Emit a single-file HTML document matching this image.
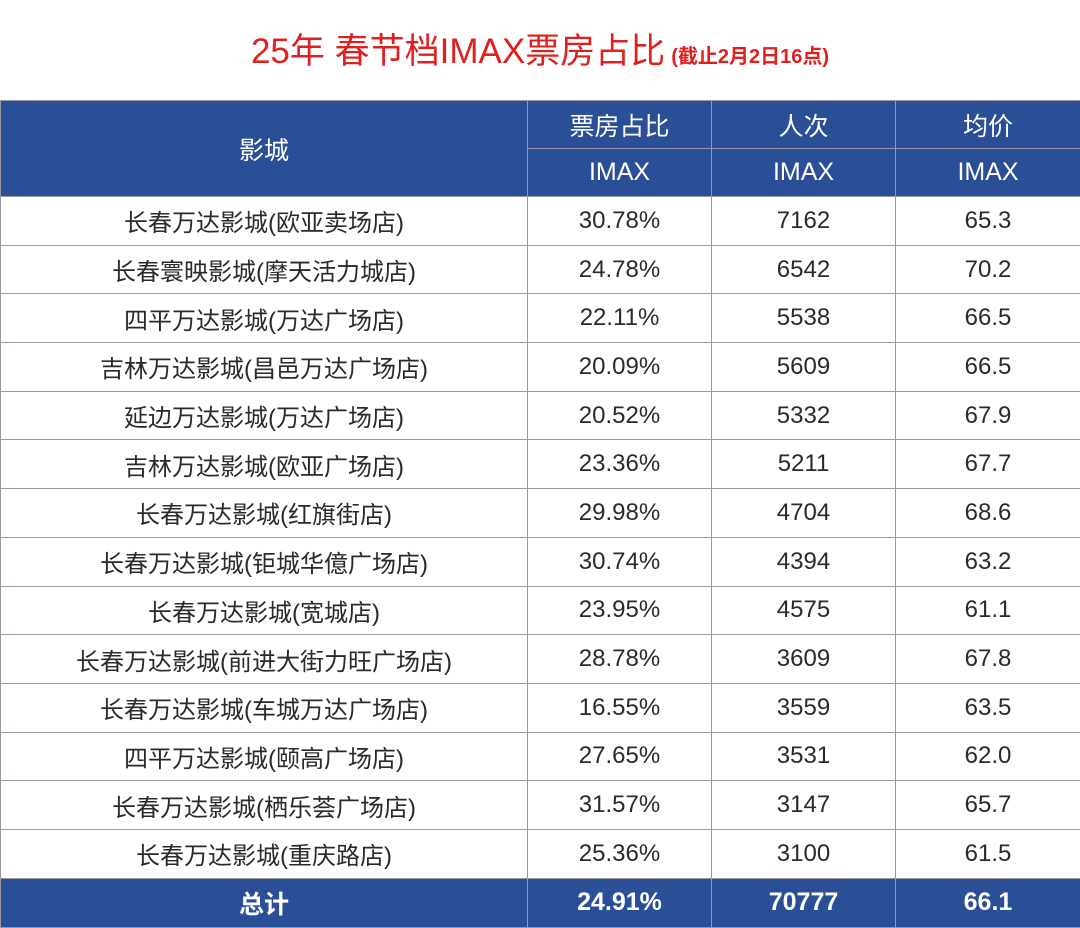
<!DOCTYPE html>
<html><head><meta charset="utf-8"><style>
html,body{margin:0;padding:0;background:#fff;width:1080px;height:927px;overflow:hidden}
body{font-family:"Liberation Sans","Noto Sans CJK SC",sans-serif}
#title{position:absolute;left:0;top:0;width:1080px;height:100px;text-align:center;line-height:104px;color:#e0201f;font-size:35px;white-space:nowrap}
#title small{font-size:20px;font-weight:bold;margin-left:6px}
table{position:absolute;left:0;top:100px;border-collapse:collapse;table-layout:fixed;width:1080px}
td,th{border:1.5px solid #9a9aa6;text-align:center;padding:0;font-weight:normal}
th{background:#2b4f96;color:#fff;font-size:25px;height:47px}
td{height:47.7px;font-size:24px;color:#2a2a2a}
tr.total td{background:#2b4f96;color:#fff;font-weight:bold;height:48px;font-size:25px}
</style></head><body>
<div id="title">25年 春节档IMAX票房占比<small>(截止2月2日16点)</small></div>
<table>
<colgroup><col style="width:527px"><col style="width:184px"><col style="width:184px"><col style="width:185px"></colgroup>
<thead>
<tr><th rowspan="2">影城</th><th>票房占比</th><th>人次</th><th>均价</th></tr>
<tr><th>IMAX</th><th>IMAX</th><th>IMAX</th></tr>
</thead>
<tbody id="tb"></tbody>
</table>
<script>
const cinemas=["长春万达影城(欧亚卖场店)","长春寰映影城(摩天活力城店)","四平万达影城(万达广场店)","吉林万达影城(昌邑万达广场店)","延边万达影城(万达广场店)","吉林万达影城(欧亚广场店)","长春万达影城(红旗街店)","长春万达影城(钜城华億广场店)","长春万达影城(宽城店)","长春万达影城(前进大街力旺广场店)","长春万达影城(车城万达广场店)","四平万达影城(颐高广场店)","长春万达影城(栖乐荟广场店)","长春万达影城(重庆路店)"];
const shares=["30.78%","24.78%","22.11%","20.09%","20.52%","23.36%","29.98%","30.74%","23.95%","28.78%","16.55%","27.65%","31.57%","25.36%"];
const admissions=["7162","6542","5538","5609","5332","5211","4704","4394","4575","3609","3559","3531","3147","3100"];
const prices=["65.3","70.2","66.5","66.5","67.9","67.7","68.6","63.2","61.1","67.8","63.5","62.0","65.7","61.5"];
const totals=["总计","24.91%","70777","66.1"];
const tb=document.getElementById('tb');
function cell(tr,text,name){const td=document.createElement('td');td.textContent=text;


tr.appendChild(td);}
cinemas.forEach((c,i)=>{const tr=document.createElement('tr');


cell(tr,c,'cinema-name');cell(tr,shares[i],'box-office-share');cell(tr,admissions[i],'admissions');cell(tr,prices[i],'average-price');tb.appendChild(tr);});
const tr=document.createElement('tr');tr.className='total';


const names=['total-label','total-share','total-admissions','total-average-price'];
totals.forEach((t,i)=>cell(tr,t,names[i]));tb.appendChild(tr);
</script>
</body></html>
